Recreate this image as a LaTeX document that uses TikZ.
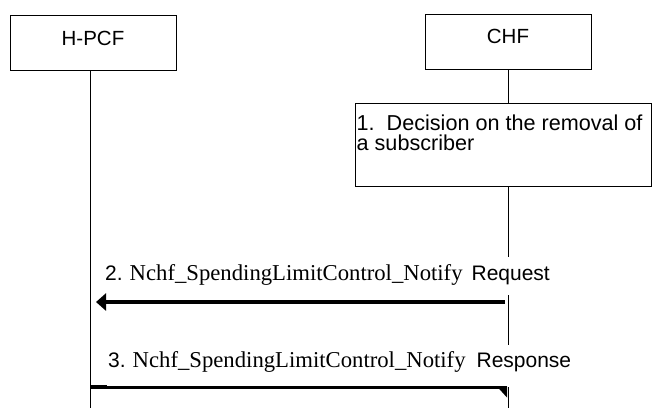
\documentclass[tikz,border=0pt]{standalone}
\usepackage{fontspec}
\setmainfont{Liberation Sans}
\newfontfamily\tnr{Liberation Serif}
\usetikzlibrary{arrows.meta}
\tikzset{
  entity/.style={draw, line width=0.8pt, minimum width=166pt, minimum height=55pt, inner sep=0pt, text depth=10pt, font=\fontsize{20.5}{24}\selectfont},
  procbox/.style={draw, line width=0.8pt, minimum width=296pt, minimum height=83pt, inner sep=0pt, anchor=north west},
  life/.style={line width=0.8pt},
  msglabel/.style={anchor=base west, fill=white, inner xsep=0pt, inner ysep=0pt, font=\fontsize{21}{24}\selectfont},
  reqarrow/.style={line width=3.5pt, -{Triangle[length=10pt,width=17pt]}},
  resarrow/.style={line width=3pt},
}
\begin{document}
\begin{tikzpicture}[x=1pt,y=-1pt]
\useasboundingbox[fill=white] (0,0) rectangle (652,408);
% entities
\node[entity] (hpcf) at (93,43) {H-PCF};
\node[entity] (chf) at (508,41.7) {CHF};
% lifeline ends
\coordinate (hbot) at (90,408);
\coordinate (cbot) at (508.5,408);
\draw[life] (hpcf.south -| hbot) -- (hbot);
\node[procbox] (dec) at (355,103) {};
\node[anchor=north west, inner sep=0pt, align=left, font=\fontsize{21.6}{19.5}\selectfont] (dectext) at (356.5,115) {1.\ \ Decision on the removal of\\a subscriber};
\draw[life] (chf.south -| cbot) -- (dec.north -| cbot);
\draw[life] (dec.south -| cbot) -- (cbot);
% message 2
\node[msglabel, text height=23pt, text depth=15pt] (l2) at (105,280) {2.\hspace{7pt}{\tnr\fontsize{22.7}{24}\selectfont Nchf\_SpendingLimitControl\_Notify}\hspace{9pt}Request};
\coordinate (m2c) at (505,302);
\coordinate (m2h) at (96,302);
\draw[reqarrow] (m2c) -- (m2h);
% message 3
\node[msglabel, text height=22pt, text depth=20pt] (l3) at (108,367) {3.\hspace{7pt}{\tnr\fontsize{22.7}{24}\selectfont Nchf\_SpendingLimitControl\_Notify}\hspace{11pt}Response};
\coordinate (m3h) at (90,387.5);
\coordinate (m3c) at (507,387.5);
\draw[resarrow] (m3h) -- (m3c);
\fill (m3c) ++(-10,-1) -- ++(10,0) -- ++(0,11) -- cycle;
\fill (m3h) ++(0.5,-3) rectangle ++(16,3);
\end{tikzpicture}
\end{document}
